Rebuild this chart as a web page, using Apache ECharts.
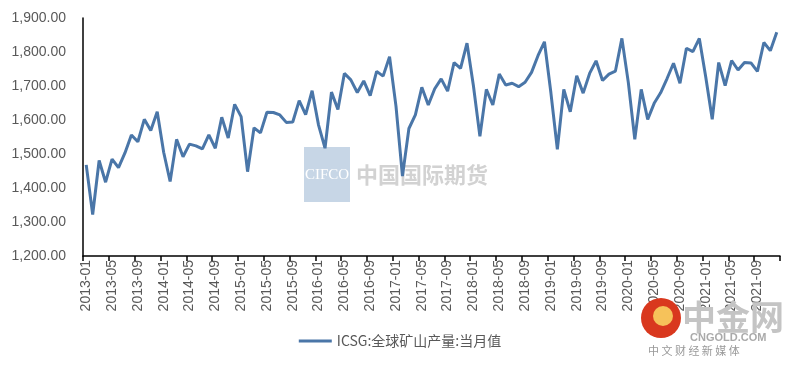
<!DOCTYPE html>
<html>
<head>
<meta charset="utf-8">
<script src="https://cdn.jsdelivr.net/npm/echarts@6/dist/echarts.min.js"></script>
<style>html,body{margin:0;padding:0;background:#fff}#c{width:800px;height:367px}</style>
</head>
<body>
<div id="c"></div>
<script>
const seriesName = 'ICSG:全球矿山产量:当月值';
const years = ['2013','2014','2015','2016','2017','2018','2019','2020','2021'];
const months = ['01','02','03','04','05','06','07','08','09','10','11','12'];
const y2013 = [1468, 1322, 1481, 1417, 1485, 1460, 1503, 1556, 1536, 1602, 1569, 1624];
const y2014 = [1505, 1419, 1543, 1492, 1529, 1524, 1515, 1556, 1517, 1608, 1547, 1646];
const y2015 = [1610, 1448, 1577, 1562, 1623, 1622, 1615, 1593, 1594, 1657, 1616, 1686];
const y2016 = [1585, 1517, 1682, 1631, 1737, 1718, 1681, 1715, 1672, 1743, 1729, 1786];
const y2017 = [1640, 1435, 1575, 1615, 1696, 1644, 1692, 1721, 1685, 1769, 1752, 1826];
const y2018 = [1700, 1552, 1690, 1644, 1735, 1703, 1708, 1698, 1711, 1740, 1789, 1830];
const y2019 = [1680, 1514, 1690, 1624, 1730, 1679, 1737, 1774, 1716, 1735, 1744, 1840];
const y2020 = [1710, 1543, 1690, 1602, 1649, 1680, 1722, 1767, 1708, 1811, 1801, 1840];
const y2021 = [1726, 1602, 1769, 1701, 1775, 1747, 1769, 1768, 1743, 1828, 1804, 1858];

const categories = [];
years.forEach(y => months.forEach(m => categories.push(y + '-' + m)));
const values = [].concat(y2013, y2014, y2015, y2016, y2017, y2018, y2019, y2020, y2021);

const chart = echarts.init(document.getElementById('c'), null, {renderer: 'canvas'});
const gray = '#595959';
chart.setOption({
  animation: false,
  backgroundColor: '#fff',
  grid: {left: 83, right: 20, top: 18, bottom: 111, containLabel: false},
  legend: {
    data: [seriesName],
    bottom: 14,
    left: 'center',
    itemWidth: 33,
    itemHeight: 3,
    icon: 'rect',
    itemGap: 10,
    textStyle: {color: gray, fontSize: 14, fontFamily: '"Noto Sans CJK SC", sans-serif'}
  },
  xAxis: {
    type: 'category',
    data: categories,
    boundaryGap: true,
    axisLine: {lineStyle: {color: '#000', width: 1.5}},
    axisTick: {show: true, interval: 3, length: 5, lineStyle: {color: '#000', width: 1.5}},
    axisLabel: {interval: 3, rotate: 90, color: gray, fontSize: 14, margin: 4,
      fontFamily: '"Liberation Sans", Arial, sans-serif'},
    splitLine: {show: false}
  },
  yAxis: {
    type: 'value',
    min: 1200, max: 1900, interval: 100,
    axisLine: {show: true, lineStyle: {color: '#000', width: 1.5}},
    axisTick: {show: false},
    splitLine: {show: false},
    axisLabel: {color: gray, fontSize: 14, margin: 17,
      fontFamily: '"Liberation Sans", Arial, sans-serif',
      formatter: v => v.toLocaleString('en-US', {minimumFractionDigits: 2, maximumFractionDigits: 2})}
  },
  series: [{
    name: seriesName,
    type: 'line',
    data: values,
    symbol: 'none',
    smooth: false,
    lineStyle: {color: '#4a76a8', width: 3},
    itemStyle: {color: '#4a76a8'},
    z: 3
  }],
  graphic: [
    {type: 'rect', shape: {x: 304, y: 147, width: 46, height: 55}, style: {fill: '#c7d6e6'}, z: 1, silent: true},
    {type: 'text', x: 327, y: 175, style: {text: 'CIFCO', fill: '#ffffff', font: '15px "Liberation Serif", serif', textAlign: 'center', textVerticalAlign: 'middle'}, z: 1, silent: true},
    {type: 'text', x: 356, y: 175, style: {text: '中国国际期货', fill: '#d2d2d2', font: 'bold 22px "Noto Sans CJK SC", sans-serif', textVerticalAlign: 'middle'}, z: 1, silent: true},
    {type: 'circle', shape: {cx: 661, cy: 318, r: 20}, style: {fill: '#d9381e'}, z: 10, silent: true},
    {type: 'circle', shape: {cx: 663, cy: 316, r: 10}, style: {fill: '#f6c25a'}, z: 10, silent: true},
    {type: 'text', x: 682, y: 317, style: {text: '中金网', fill: '#c4c4c4', font: 'bold 34px "Noto Sans CJK SC", sans-serif', textVerticalAlign: 'middle'}, z: 10, silent: true},
    {type: 'text', x: 690, y: 338, style: {text: 'CNGOLD.COM', fill: '#aaaaaa', font: 'bold 11px "Liberation Sans", sans-serif', textVerticalAlign: 'middle'}, z: 10, silent: true},
    {type: 'text', x: 648, y: 351, style: {text: '中 文 财 经 新 媒 体', fill: '#999999', font: '11px "Noto Sans CJK SC", sans-serif', textVerticalAlign: 'middle'}, z: 10, silent: true}
  ]
});
</script>
</body>
</html>
